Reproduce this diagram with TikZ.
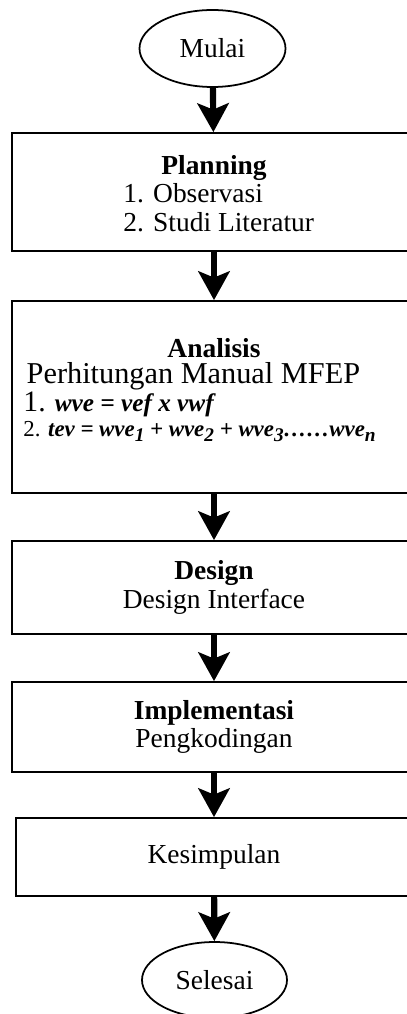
\documentclass[tikz,border=0pt]{standalone}
\usepackage{fontspec}
\setmainfont{Liberation Serif}
\usetikzlibrary{shapes,arrows.meta,positioning}

\newcommand{\idx}[1]{\raisebox{-0.5ex}{\fontsize{8.8pt}{9pt}\selectfont #1}}

\tikzset{
  proses/.style={draw, thick, minimum width=6.464cm, align=center, inner sep=2pt},
  terminal/.style={draw, thick, ellipse, minimum width=2.336cm, minimum height=1.232cm, inner sep=0pt},
  baris/.style={anchor=base west, inner sep=0pt},
  judul/.style={anchor=base, inner sep=0pt, font=\fontsize{12.5pt}{13pt}\selectfont\bfseries},
  panah/.style={-{Stealth[length=0.46cm,width=0.5cm,inset=0.1cm]}, line width=2.8pt},
}

\begin{document}
\begin{tikzpicture}[font=\fontsize{12.5pt}{13pt}\selectfont]
\useasboundingbox (0,0) rectangle (6.496,-16.224);

% Start and end
\node[terminal] (mulai) at (3.40,-0.776) {Mulai};
\node[terminal, minimum width=2.32cm, minimum height=1.216cm] (selesai) at (3.432,-15.68) {Selesai};

% Planning
\node[proses, minimum height=1.888cm] (planning) at (3.424,-3.072) {};
\node[judul] (planning-judul) at (3.424,-2.8) {Planning};
\node[baris] (planning-1) at (1.968,-3.248) {1. Observasi};
\node[baris] (planning-2) at (1.968,-3.712) {2. Studi Literatur};

% Analisis
\node[proses, minimum height=3.072cm] (analisis) at (3.424,-6.352) {};
\node[judul] (analisis-judul) at (3.424,-5.712) {Analisis};
\node[baris, font=\fontsize{13.8pt}{15pt}\selectfont] (analisis-mfep) at (0.42,-6.136) {Perhitungan Manual MFEP};
\node[baris] (analisis-1) at (0.368,-6.584)
  {{\fontsize{13.5pt}{15pt}\selectfont 1.} {\fontsize{11.5pt}{12pt}\selectfont\bfseries\itshape wve = vef x vwf}};
\node[baris, font=\fontsize{10.4pt}{11pt}\selectfont] (analisis-2) at (0.368,-6.984)
  {2. \textbf{\textit{tev = wve\idx{1} + wve\idx{2} + wve\idx{3}……wve\idx{n}}}};

% Design, Implementasi, Kesimpulan
\node[proses, minimum height=1.488cm] (design) at (3.424,-9.4)
  {\textbf{Design}\\ Design Interface};
\node[proses, minimum height=1.44cm] (implementasi) at (3.424,-11.632)
  {\textbf{Implementasi}\\ Pengkodingan};
\node[proses, minimum width=6.336cm, minimum height=1.248cm] (kesimpulan) at (3.424,-13.712)
  {Kesimpulan};

% Flow
\draw[panah] (mulai) -- (planning);
\draw[panah] (planning) -- (analisis);
\draw[panah] (analisis) -- (design);
\draw[panah] (design) -- (implementasi);
\draw[panah] (implementasi) -- (kesimpulan);
\draw[panah] (kesimpulan) -- (selesai);

\end{tikzpicture}
\end{document}
